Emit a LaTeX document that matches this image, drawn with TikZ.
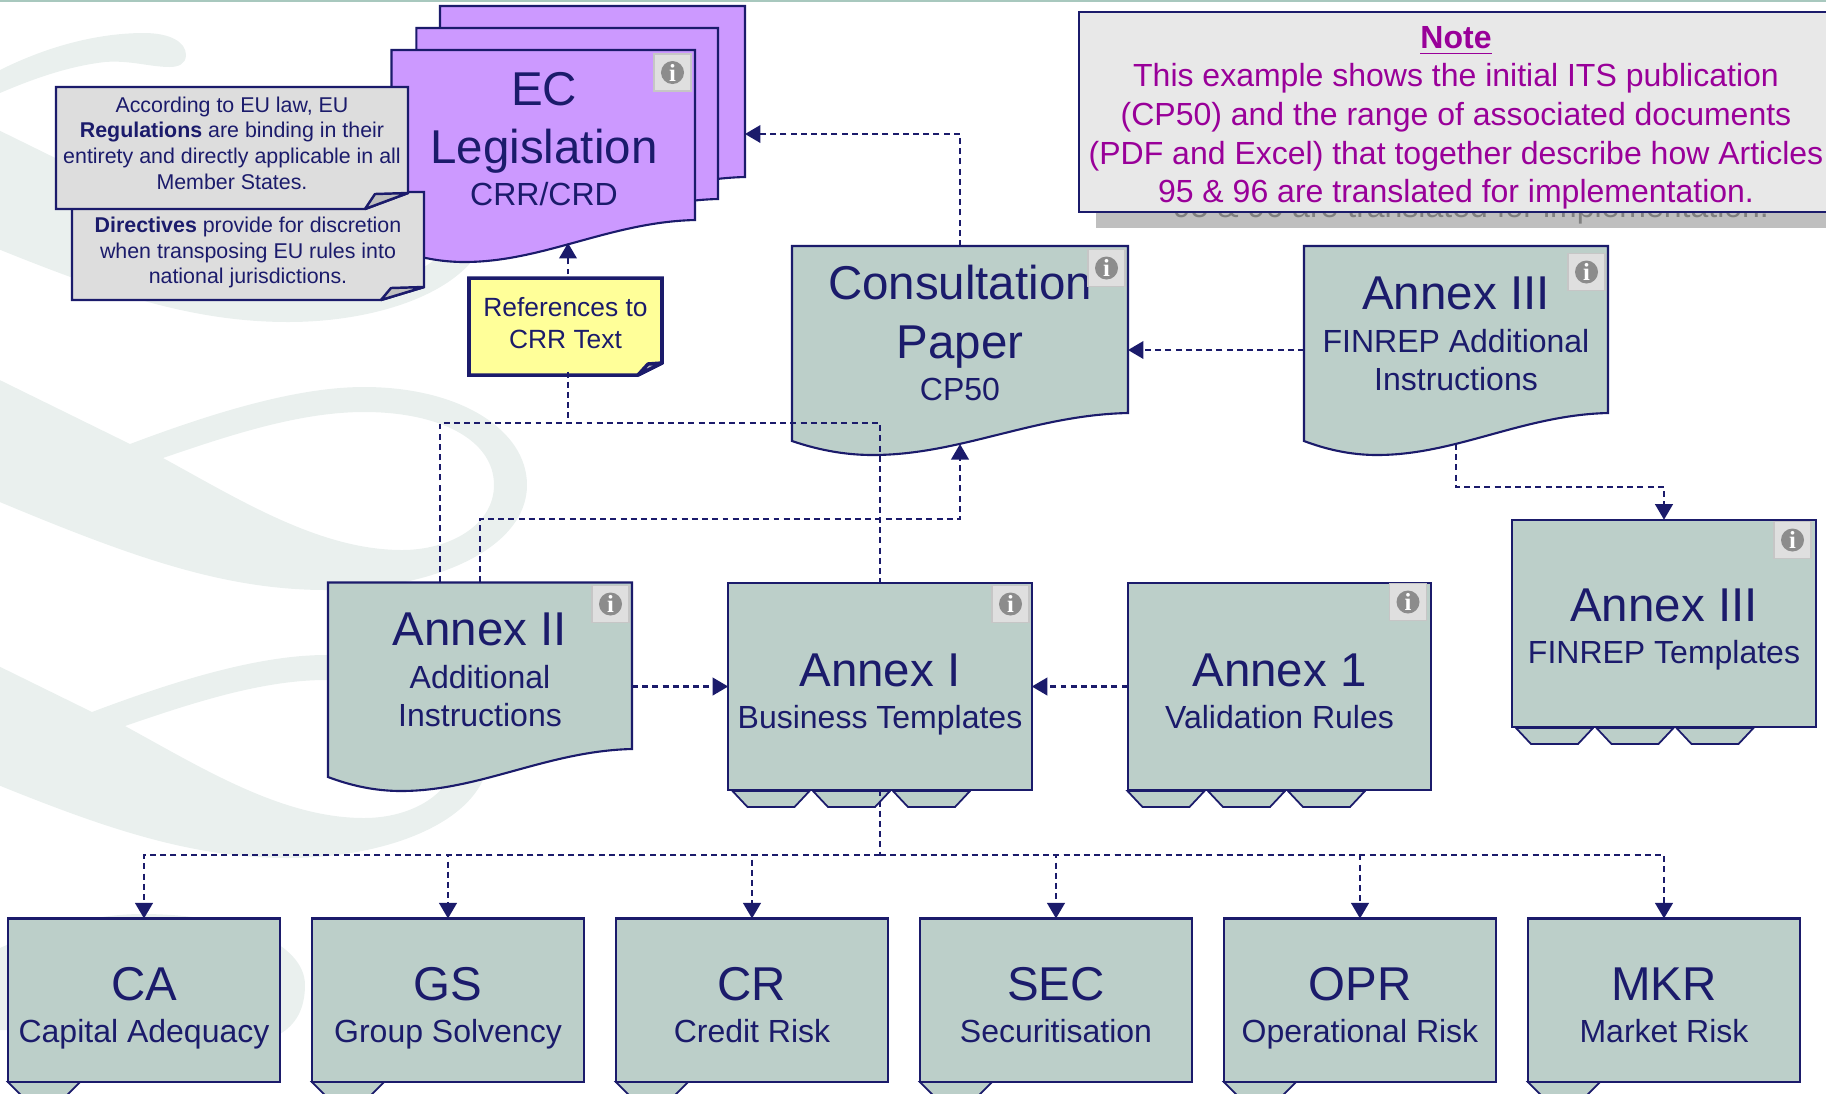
\documentclass[tikz,border=0pt]{standalone}
\usepackage{fontspec}
\setmainfont{Liberation Sans}
\newfontfamily\infofont{Liberation Serif}
\usetikzlibrary{arrows.meta}

\definecolor{navy}{HTML}{1B1B6B}
\definecolor{boxgreen}{HTML}{BCCFC9}
\definecolor{legalpurple}{HTML}{CC99FF}
\definecolor{calloutgrey}{HTML}{DDDDDD}
\definecolor{noteyellow}{HTML}{FFFF99}
\definecolor{notemagenta}{HTML}{990099}
\definecolor{swirlgrey}{HTML}{EAF0EE}
\definecolor{topline}{HTML}{A8C8BE}

\newcommand{\ttl}[1]{{\fontsize{13.5}{16.6}\selectfont #1}}
% title and subtitle, struts keep them at the same height in every box
\newcommand{\boxtext}[2]{\rule{0pt}{14pt}\ttl{#1}\\[1pt]#2\rule[-2pt]{0pt}{2pt}}
% page shape with a wavy foot: left, top, width, height of right edge
\newcommand{\docshape}[5]{
  \draw[#5] (#1,#2) -- (#1+#3,#2) -- (#1+#3,#4)
    .. controls (#1+0.72*#3,#4+2) and (#1+0.5*#3,#4+42) .. (#1+0.24*#3,#4+42)
    .. controls (#1+0.15*#3,#4+42) and (#1+0.07*#3,#4+36) .. (#1,#4+28) -- cycle;
}
% note with a turned corner: left, top, right, bottom, fold x, fold y, fill
\newcommand{\noteshape}[8]{
  \draw[#8,fill=#7] (#1,#2) -- (#3,#2) -- (#3,#6) -- (#5,#4) -- (#1,#4) -- cycle;
  \draw[#8,fill=gray!50,line join=bevel] (#5,#4) -- (#5+10,#6+1) -- (#3,#6) -- cycle;
}
% the three tabs below a box
\newcommand{\tabrow}[2]{
  \foreach \d in {5,85.5,165.5} {
    \draw[tab line] (#1+\d,#2) -- (#1+\d+15,#2+16) -- (#1+\d+62,#2+16) -- (#1+\d+77,#2) -- cycle;
  }
}
\newcommand{\onetab}[2]{
  \draw[tab line] (#1,#2) -- (#1+16,#2+16) -- (#1+56,#2+16) -- (#1+72,#2) -- cycle;
}
\newcommand{\swirlpath}{
  (-100,331) -- (130,444) .. controls (220,410) and (300,387) .. (364,387)
    .. controls (460,387) and (527,430) .. (527,485)
    .. controls (527,550) and (430,590) .. (326,590)
    .. controls (200,590) and (90,540) .. (-100,460) -- cycle
  (163,458) .. controls (230,435) and (300,412) .. (364,412)
    .. controls (440,412) and (494,440) .. (494,485)
    .. controls (494,525) and (450,550) .. (402,550)
    .. controls (320,550) and (240,500) .. (163,458) -- cycle
}

\begin{document}
\begin{tikzpicture}[x=0.01cm, y=-0.01cm,
    main node/.style={draw=navy,fill=boxgreen,line width=0.6pt,inner sep=0pt,outer sep=0pt,
      text=navy,align=center,font=\fontsize{9.1}{11}\selectfont},
    doc node/.style={main node,draw=none,fill=none},
    bottom node/.style={main node,minimum width=2.715cm,minimum height=1.63cm},
    annex node/.style={main node,minimum width=3.035cm,minimum height=2.075cm},
    doc line/.style={draw=navy,fill=boxgreen,line width=0.6pt},
    tab line/.style={draw=navy,fill=boxgreen,line width=0.5pt},
    call node/.style={inner sep=0pt,outer sep=0pt,text=navy,align=center,
      font=\fontsize{6.08}{7.3}\selectfont},
    info btn/.style={draw=gray!45,fill=gray!25,line width=0.5pt,minimum size=0.37cm,inner sep=0pt},
    info dot/.style={circle,fill=gray!90,text=white,minimum size=0.23cm,inner sep=0pt,
      font=\infofont\fontsize{7}{7}\selectfont\bfseries},
    link/.style={draw=navy,line width=0.6pt,dash pattern=on 1.7pt off 1.2pt},
    arrow link/.style={link,-{Triangle[length=4.4pt,width=5pt]}}]

  \useasboundingbox (0,0) rectangle (1826,1093);
  \clip (0,0) rectangle (1826,1093);

  % background swirl
  \fill[swirlgrey,even odd rule] \swirlpath;
  \fill[swirlgrey,even odd rule,shift={(-38,268)}] \swirlpath;
  \fill[swirlgrey,even odd rule,shift={(-38,-268)}] \swirlpath;
  \fill[swirlgrey] (0,70) .. controls (50,45) and (100,33) .. (144,33)
    .. controls (170,33) and (186,42) .. (186,55) .. controls (186,64) and (178,67) .. (170,67)
    .. controls (150,67) and (130,60) .. (105,62) .. controls (70,66) and (35,78) .. (0,93) -- cycle;
  \fill[swirlgrey] (0,948) .. controls (50,925) and (100,914) .. (142,914)
    .. controls (240,914) and (305,945) .. (305,985) .. controls (305,1010) and (295,1025) .. (280,1034)
    -- (0,1030) -- cycle;
  \fill[topline] (0,0) rectangle (1826,2);

  % legislation stack
  \docshape{440}{6}{305}{177}{doc line,fill=legalpurple}
  \docshape{416.4}{28}{301.6}{199}{doc line,fill=legalpurple}
  \docshape{391.5}{50}{303.5}{220}{doc line,fill=legalpurple}
  \node[doc node,minimum width=3.035cm,minimum height=2.08cm] (ec) at (544,154)
    {\ttl{EC}\\[5.6pt]\ttl{Legislation}\\[1pt]CRR/CRD\rule[-8.5pt]{0pt}{8.5pt}};
  \node[info btn] (ec info) at (672.5,72.5) {};
  \node[info dot] (ec info i) at (ec info) {i};

  % notes on the legislation
  \noteshape{72}{192}{424}{300}{381}{287}{calloutgrey}{line width=0.7pt,draw=navy}
  \node[call node,minimum width=3.52cm,minimum height=1.08cm] (directives) at (248,252.5)
    {\textbf{Directives} provide for discretion\\when transposing EU rules into\\national jurisdictions.};
  \noteshape{56}{87}{408}{209}{365}{193}{calloutgrey}{line width=0.7pt,draw=navy}
  \node[call node,minimum width=3.52cm,minimum height=1.22cm] (regulations) at (232,143)
    {According to EU law, EU\\\textbf{Regulations} are binding in their\\entirety and directly applicable in all\\Member States.};
  \noteshape{469}{278}{662}{375}{638}{363}{noteyellow}{line width=1pt,draw=navy}
  \node[call node,minimum width=1.93cm,minimum height=0.97cm,font=\fontsize{7.5}{9}\selectfont] (refs) at (565.5,323)
    {References to\\CRR Text};

  % the note, with the text showing through its shadow
  \fill[gray!50] (1096,40) rectangle (1826,228);
  \node[inner sep=0pt,text=gray,font=\fontsize{9.1}{11}\selectfont] (note ghost) at (1471,209)
    {95 \& 96 are translated for implementation.};
  \node[draw=navy,fill=gray!18,line width=0.6pt,inner sep=0pt,outer sep=0pt,minimum width=7.54cm,minimum height=2cm,
    text=notemagenta,align=center,font=\fontsize{9.1}{11}\selectfont] (note) at (1456,112)
    {\rule{0pt}{9.5pt}\textbf{\underline{Note}}\\This example shows the initial ITS publication\\(CP50) and the range of associated documents\\(PDF and Excel) that together describe how Articles\\95 \& 96 are translated for implementation.};

  % documents
  \docshape{792}{246}{336}{413}{doc line}
  \node[doc node,minimum width=3.36cm,minimum height=1.98cm] (consult) at (960,345)
    {\ttl{Consultation}\\[5.6pt]\ttl{Paper}\\[1pt]CP50\rule[-6.8pt]{0pt}{6.8pt}};
  \node[info btn] (consult info) at (1106.5,268) {};
  \node[info dot] (consult info i) at (consult info) {i};

  \docshape{1304}{246}{304}{413}{doc line}
  \node[doc node,minimum width=3.04cm,minimum height=1.98cm] (finrep) at (1456,345)
    {\ttl{Annex III}\\[1pt]FINREP Additional\\Instructions\rule[-6.3pt]{0pt}{6.3pt}};
  \node[info btn] (finrep info) at (1586.5,272) {};
  \node[info dot] (finrep info i) at (finrep info) {i};

  \docshape{328}{582.5}{304}{749}{doc line}
  \node[doc node,minimum width=3.04cm,minimum height=2.03cm] (annexII) at (480,684)
    {\ttl{Annex II}\\[1pt]Additional\\Instructions\rule[-8pt]{0pt}{8pt}};
  \node[info btn] (annexII info) at (610.5,604) {};
  \node[info dot] (annexII info i) at (annexII info) {i};

  % templates
  \tabrow{1511}{728}
  \node[annex node] (templates) at (1664,623.5)
    {\rule{0pt}{13pt}\ttl{Annex III}\\[1pt]FINREP Templates\rule[-2pt]{0pt}{2pt}};
  \node[info btn] (templates info) at (1792.5,540) {};
  \node[info dot] (templates info i) at (templates info) {i};

  \tabrow{727.5}{791}
  \node[annex node] (annexI) at (880,686.5)
    {\boxtext{Annex I}{Business Templates}};
  \node[info btn] (annexI info) at (1010.5,604) {};
  \node[info dot] (annexI info i) at (annexI info) {i};

  \tabrow{1122.5}{791}
  \node[annex node] (rules) at (1279.5,686.5)
    {\boxtext{Annex 1}{Validation Rules}};
  \node[info btn] (rules info) at (1408,602) {};
  \node[info dot] (rules info i) at (rules info) {i};

  % bottom row
  \onetab{8}{1082}
  \onetab{312}{1082}
  \onetab{616}{1082}
  \onetab{920}{1082}
  \onetab{1224}{1082}
  \onetab{1528}{1082}
  \node[bottom node] (ca) at (144,1000) {\boxtext{CA}{Capital Adequacy}};
  \node[bottom node] (gs) at (448,1000) {\boxtext{GS}{Group Solvency}};
  \node[bottom node] (cr) at (752,1000) {\boxtext{CR}{Credit Risk}};
  \node[bottom node] (sec) at (1056,1000) {\boxtext{SEC}{Securitisation}};
  \node[bottom node] (opr) at (1360,1000) {\boxtext{OPR}{Operational Risk}};
  \node[bottom node] (mkr) at (1664,1000) {\boxtext{MKR}{Market Risk}};

  % connectors
  \coordinate (ec tip) at (568,243);
  \coordinate (ec back) at (745,134);
  \coordinate (cross) at (440,423);
  \coordinate (mid) at (480,519);
  \coordinate (cp in) at (1128,350);
  \coordinate (finrep turn) at (1456,487);
  \coordinate (tree) at (880,855);

  \draw[arrow link] (refs.north -| ec tip) -- (ec tip);
  \draw[link] (refs.south -| ec tip) -- (ec tip |- cross);
  \draw[link] (annexII.north -| cross) -- (cross) -- (cross -| annexI.north) -- (annexI.north);
  \draw[arrow link] (annexII.north) -- (mid) -| (consult.south);
  \draw[arrow link] (consult.north) |- (ec back);
  \draw[arrow link] (cp in -| finrep.west) -- (cp in);
  \draw[arrow link] (finrep.south) -- (finrep turn) -| (templates.north);
  \draw[arrow link] (annexII.east |- annexI.west) -- (annexI.west);
  \draw[arrow link] (rules.west) -- (annexI.east);
  \draw[link] (annexI.south) -- (tree);
  \draw[arrow link] (tree) -| (ca.north);
  \draw[arrow link] (tree) -| (gs.north);
  \draw[arrow link] (tree) -| (cr.north);
  \draw[arrow link] (tree) -| (sec.north);
  \draw[arrow link] (tree) -| (opr.north);
  \draw[arrow link] (tree) -| (mkr.north);

\end{tikzpicture}
\end{document}
